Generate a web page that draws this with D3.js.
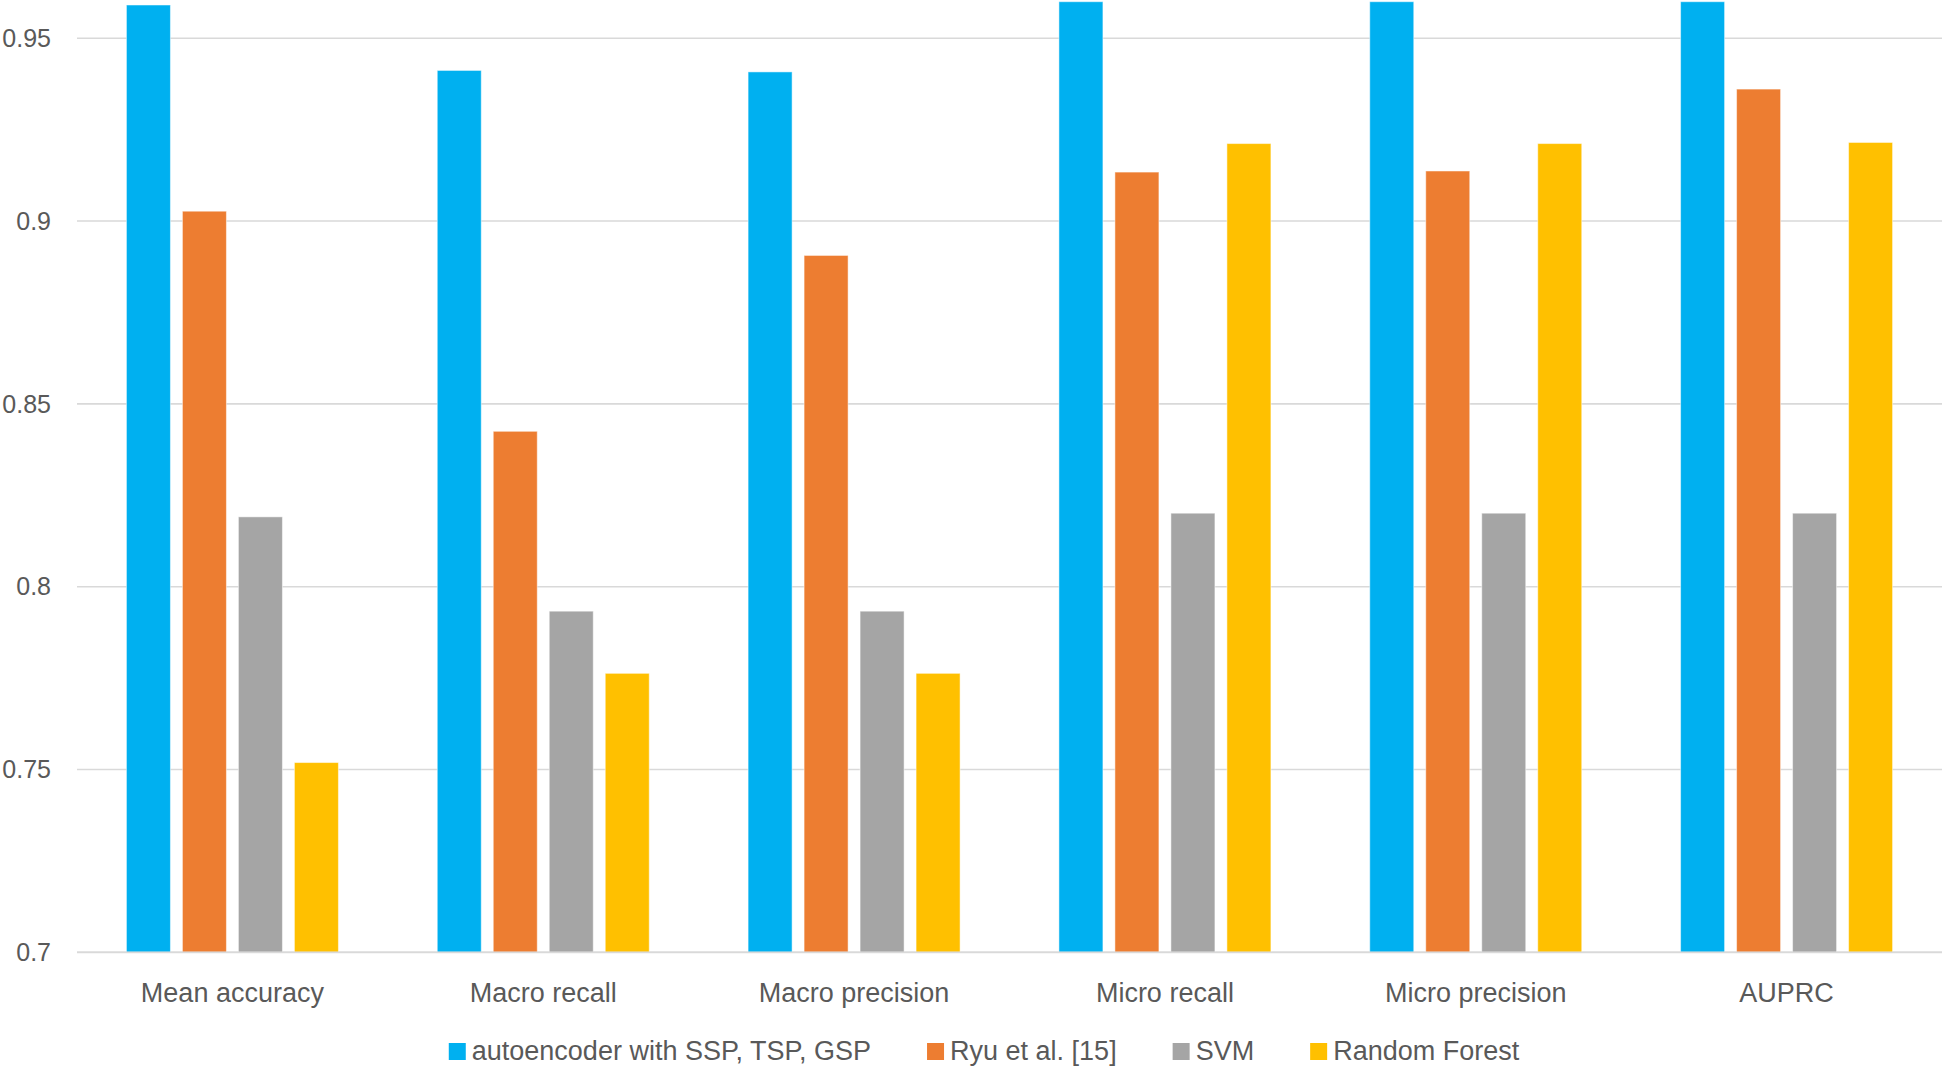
<!DOCTYPE html>
<html lang="en">
  <head>
    <meta charset="utf-8" />
    <title>Classifier comparison</title>
    <script src="https://cdn.jsdelivr.net/npm/d3@7"></script>
    <style>
      body { margin: 0; background: #fff; }
      text { font-family: "Liberation Sans", Arial, sans-serif; fill: #595959; }
    </style>
  </head>
  <body>
    <div id="chart"></div>
    <script type="text/javascript">
      // values
      const categories = ["Mean accuracy", "Macro recall", "Macro precision", "Micro recall", "Micro precision", "AUPRC"];
      const seriesNames = ["autoencoder with SSP, TSP, GSP", "Ryu et al. [15]", "SVM", "Random Forest"];
      const autoencoder = [0.9591, 0.9412, 0.9408, 0.9600, 0.9600, 0.9600];
      const ryu = [0.9027, 0.8425, 0.8906, 0.9134, 0.9137, 0.9361];
      const svm = [0.8191, 0.7933, 0.7933, 0.8201, 0.8201, 0.8201];
      const randomForest = [0.7519, 0.7763, 0.7763, 0.9212, 0.9212, 0.9215];
      const yTicks = [0.7, 0.75, 0.8, 0.85, 0.9, 0.95];
      const colors = ["#00B0F0", "#ED7D31", "#A5A5A5", "#FFC000"];

      const allSeries = [autoencoder, ryu, svm, randomForest];
      const width = 1946, height = 1067;

      const svg = d3.select("#chart").append("svg")
        .attr("width", width).attr("height", height);

      const x0 = d3.scaleBand().domain(categories).range([77, 1942]);
      const x1 = d3.scaleBand().domain(seriesNames)
        .range([0, 212]).paddingInner(0.214);
      const groupOffset = (x0.bandwidth() - 212) / 2;
      const y = d3.scaleLinear().domain([0.7, 0.96]).range([952.3, 1.7]);

      // gridlines
      svg.append("g")
        .selectAll("line")
        .data(yTicks)
        .join("line")
        .attr("x1", 77).attr("x2", 1942)
        .attr("y1", d => y(d)).attr("y2", d => y(d))
        .attr("stroke", "#D9D9D9")
        .attr("stroke-width", 1.6);

      // y labels
      svg.append("g")
        .selectAll("text")
        .data(yTicks)
        .join("text")
        .attr("x", 51)
        .attr("y", d => y(d))
        .attr("dy", "0.35em")
        .attr("text-anchor", "end")
        .attr("font-size", "25px")
        .text(d => d3.format("")(d));

      // bars
      const groups = svg.append("g")
        .selectAll("g")
        .data(categories)
        .join("g")
        .attr("transform", d => `translate(${x0(d) + groupOffset},0)`);

      groups.selectAll("rect")
        .data((c, i) => seriesNames.map((s, j) => ({ s, j, v: allSeries[j][i] })))
        .join("rect")
        .attr("x", d => x1(d.s))
        .attr("width", x1.bandwidth())
        .attr("y", d => y(d.v))
        .attr("height", d => y(0.7) - y(d.v))
        .attr("fill", d => colors[d.j])
        .attr("stroke", "#fff")
        .attr("stroke-opacity", 0.5)
        .attr("stroke-width", 1);

      // bottom axis line
      svg.append("line")
        .attr("x1", 77).attr("x2", 1942)
        .attr("y1", y(0.7)).attr("y2", y(0.7))
        .attr("stroke", "#D9D9D9")
        .attr("stroke-width", 1.8);

      // category labels
      svg.append("g")
        .selectAll("text")
        .data(categories)
        .join("text")
        .attr("x", d => x0(d) + x0.bandwidth() / 2)
        .attr("y", 1002)
        .attr("text-anchor", "middle")
        .attr("font-size", "27px")
        .text(d => d);

      // legend
      const legendGap = 56;
      const legend = svg.append("g");
      const items = legend.selectAll("g")
        .data(seriesNames)
        .join("g");
      items.append("rect")
        .attr("width", 17).attr("height", 17)
        .attr("y", 1043)
        .attr("fill", (d, i) => colors[i]);
      items.append("text")
        .attr("x", 23)
        .attr("y", 1060)
        .attr("font-size", "27px")
        .text(d => d);

      let cursor = 0;
      const offsets = [];
      items.each(function () {
        offsets.push(cursor);
        cursor += 23 + d3.select(this).select("text").node().getComputedTextLength() + legendGap;
      });
      const legendWidth = cursor - legendGap;
      const legendStart = 984 - legendWidth / 2;
      items.attr("transform", (d, i) => `translate(${legendStart + offsets[i]},0)`);
    </script>
  </body>
</html>
